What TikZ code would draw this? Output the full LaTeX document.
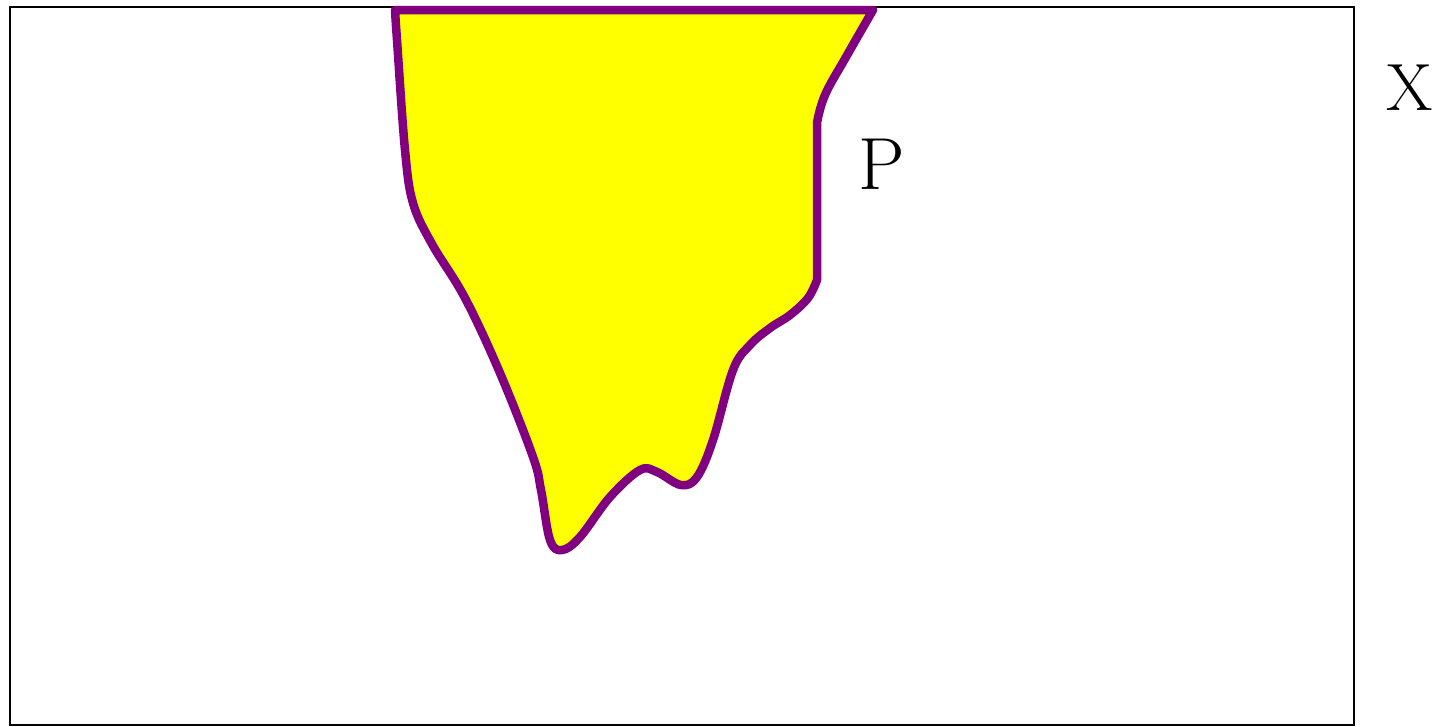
\documentclass[tikz,border=0pt]{standalone}
\usepackage{xcolor}
\definecolor{blobfill}{HTML}{FFFF00}
\definecolor{blobedge}{HTML}{800080}
\usepackage{tikz}
\usetikzlibrary{positioning}
\tikzset{
  frame/.style   ={draw=black, line width=0.025cm},
  blob/.style    ={fill=blobfill, draw=blobedge, line width=0.085cm, line join=round},
  setlbl/.style  ={font=\fontsize{21}{24}\selectfont, text=black, inner sep=0pt},
}
\begin{document}
\begin{tikzpicture}[x=0.01cm, y=-0.01cm]
  \useasboundingbox (0,0) rectangle (1437,726);
  % the space
  \draw[frame] (10,7) rectangle (1354,725);
  % the region
  \draw[blob] (395,10) -- (873,10)
    -- plot[smooth, tension=0.7] coordinates {(873,10) (846,57) (825,95) (817,123)}
    -- (817,280)
    -- plot[smooth, tension=0.6] coordinates {(817,280) (808,298) (790,315) (770,328)
         (750,345) (733,370) (713,440) (697,477) (681,485) (657,472) (640,470)
         (610,497) (580,537) (562,550) (550,540) (541,490) (533,457) (500,373)
         (465,298) (432,244) (413,203) (405,150) (397,40) (395,10)}
    -- cycle;
  \node[setlbl] (plbl) at (882,164) {P};
  \node[setlbl, font=\fontsize{19}{22}\selectfont] (xlbl) at (1410,88) {X};
\end{tikzpicture}
\end{document}
